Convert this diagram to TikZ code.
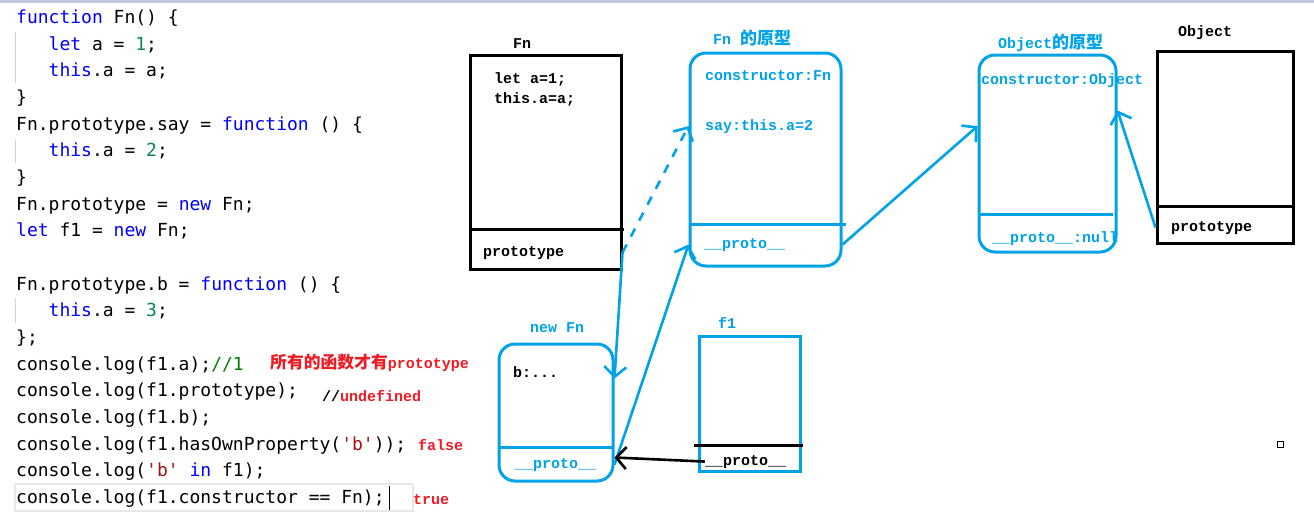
\documentclass[tikz,border=0pt]{standalone}
\usepackage{fontspec}
\setmonofont{DejaVu Sans Mono}
\newfontfamily\paintfont{Liberation Mono}
\newfontfamily\cjk{Noto Sans CJK SC}
\usetikzlibrary{arrows.meta,positioning}

\definecolor{paintblue}{RGB}{0,162,232}
\definecolor{paintred}{RGB}{237,28,36}
\definecolor{kwblue}{RGB}{0,0,255}
\definecolor{numgreen}{RGB}{9,134,88}
\definecolor{strred}{RGB}{163,21,21}
\definecolor{cmtgreen}{RGB}{0,128,0}
\definecolor{topgray}{RGB}{192,204,220}
\definecolor{guidegray}{RGB}{210,210,210}
\definecolor{hlgray}{RGB}{232,232,232}

\newcommand{\kwd}[1]{\textcolor{kwblue}{#1}}
\newcommand{\numc}[1]{\textcolor{numgreen}{#1}}
\newcommand{\strc}[1]{\textcolor{strred}{#1}}
\newcommand{\cmtc}[1]{\textcolor{cmtgreen}{#1}}
\newcommand{\zh}[2]{{\cjk\fontsize{#1}{#1}\selectfont #2}}

\begin{document}
\begin{tikzpicture}[
    x=1pt, y=-1pt,
    code/.style={anchor=base west, inner sep=0pt, font=\fontsize{18}{20}\selectfont\ttfamily},
    paint/.style={anchor=base west, inner sep=0pt, font=\fontsize{15}{17}\selectfont\paintfont\bfseries},
    blackbox/.style={draw=black, line width=3pt, inner sep=0pt},
    bluebox/.style={draw=paintblue, line width=3pt, inner sep=0pt},
    roundbox/.style={bluebox, rounded corners=16pt},
    sepline/.style={line width=3pt},
    bluearrow/.style={draw=paintblue, line width=2.6pt, -{Straight Barb[length=10pt,width=22pt]}},
    blackarrow/.style={draw=black, line width=2.6pt, -{Straight Barb[length=10pt,width=22pt]}}
]
    \fill[white] (0,0) rectangle (1314,520);
    \useasboundingbox (0,0) rectangle (1314,520);
    \fill[topgray] (0,0) rectangle (1314,2.5);

    % Editor: source code
    \draw[guidegray, line width=1pt] (15.5,32) -- (15.5,83);
    \draw[guidegray, line width=1pt] (15.5,140) -- (15.5,163);
    \draw[guidegray, line width=1pt] (15.5,298) -- (15.5,323);
    \draw[hlgray, line width=1.5pt] (15,484) rectangle (413,511);
    \draw[black, line width=1pt] (389,486) -- (389,510);

    \node[code] (c0) at (16,23.5) {\kwd{function} Fn() \{};
    \node[code] (c1) at (16,50.2) {~~~\kwd{let} a = \numc{1};};
    \node[code] (c2) at (16,76.8) {~~~\kwd{this}.a = a;};
    \node[code] (c3) at (16,103.5) {\}};
    \node[code] (c4) at (16,130.2) {Fn.prototype.say = \kwd{function} () \{};
    \node[code] (c5) at (16,156.9) {~~~\kwd{this}.a = \numc{2};};
    \node[code] (c6) at (16,183.5) {\}};
    \node[code] (c7) at (16,210.2) {Fn.prototype = \kwd{new} Fn;};
    \node[code] (c8) at (16,236.9) {\kwd{let} f1 = \kwd{new} Fn;};
    \node[code] (c10) at (16,290.2) {Fn.prototype.b = \kwd{function} () \{};
    \node[code] (c11) at (16,316.9) {~~~\kwd{this}.a = \numc{3};};
    \node[code] (c12) at (16,343.5) {\};};
    \node[code] (c13) at (16,370.2) {console.log(f1.a);\cmtc{//1}};
    \node[code] (c14) at (16,396.9) {console.log(f1.prototype);};
    \node[code] (c15) at (16,423.6) {console.log(f1.b);};
    \node[code] (c16) at (16,450.2) {console.log(f1.hasOwnProperty(\strc{\textquotesingle b\textquotesingle}));};
    \node[code] (c17) at (16,476.9) {console.log(\strc{\textquotesingle b\textquotesingle} \kwd{in} f1);};
    \node[code] (c18) at (16,503.6) {console.log(f1.constructor == Fn);};

    % Notes
    \node[paint, text=paintred] (note1) at (270,368) {\zh{16.8}{所有的函数才有}prototype};
    \node[paint] (note2) at (322,401) {//\textcolor{paintred}{undefined}};
    \node[paint, text=paintred] (note3) at (418,450) {false};
    \node[paint, text=paintred] (note4) at (413,504) {true};

    % Fn
    \node[blackbox, minimum width=151pt, minimum height=214pt] (fn) at (545.5,162) {};
    \draw[sepline] (470,229) -- (624,229);
    \node[paint, anchor=base] (fnlabel) at (522,48) {Fn};
    \node[paint] (fnlet) at (494,83) {let a=1;};
    \node[paint] (fnthis) at (494,103) {this.a=a;};
    \node[paint] (fnproto) at (483,256) {prototype};

    % Fn 的原型
    \node[roundbox, minimum width=151pt, minimum height=213pt] (pfn) at (765.5,159.5) {};
    \draw[sepline, paintblue] (690,224) -- (846,224);
    \node[paint, text=paintblue] (pfnlabel) at (713,44) {Fn \zh{17}{的原型}};
    \node[paint, text=paintblue] (pfncons) at (705,80) {constructor:Fn};
    \node[paint, text=paintblue] (say) at (705,130) {say:this.a=2};
    \node[paint, text=paintblue] (pfnp) at (704,248) {\_\_proto\_\_};

    % Object 的原型
    \node[roundbox, minimum width=137pt, minimum height=197pt] (pobj) at (1047.5,153.5) {};
    \draw[sepline, paintblue] (979,214) -- (1113,214);
    \node[paint, text=paintblue] (pobjlabel) at (998,48) {Object\zh{17}{的原型}};
    \node[paint, text=paintblue] (pobjcons) at (981,84) {constructor:Object};
    \node[paint, text=paintblue] (pobjp) at (992,242) {\_\_proto\_\_:null};

    % Object
    \node[blackbox, minimum width=136pt, minimum height=192pt] (obj) at (1225,147) {};
    \draw[sepline] (1157,206) -- (1293,206);
    \node[paint] (objlabel) at (1178,36) {Object};
    \node[paint] (objp) at (1171,231) {prototype};

    % new Fn
    \node[roundbox, minimum width=114pt, minimum height=137pt] (nfn) at (556,412.5) {};
    \draw[sepline, paintblue] (499,447) -- (613,447);
    \node[paint, text=paintblue] (nfnlabel) at (530,332) {new Fn};
    \node[paint] (nfnb) at (513,377) {b:...};
    \node[paint, text=paintblue] (nfnp) at (515,468) {\_\_proto\_\_};

    % f1
    \node[bluebox, minimum width=101pt, minimum height=135pt] (fone) at (749.5,403.5) {};
    \draw[sepline] (694,445) -- (803,445);
    \node[paint, text=paintblue] (fonelabel) at (718,328) {f1};
    \node[paint] (fonep) at (705,465) {\_\_proto\_\_};

    % Links
    \draw[bluearrow, dash pattern=on 9pt off 9pt] (fn.east |- fnproto) -- (pfn.west |- say);
    \draw[bluearrow] (fn.east |- fnproto) -- ([yshift=34pt]nfn.east);
    \draw[bluearrow] (nfn.east |- nfnp) -- (pfn.west |- pfnp);
    \draw[bluearrow] (pfn.east |- pfnp) -- (pobj.west |- say);
    \draw[bluearrow] (obj.west |- objp) -- ([yshift=43pt]pobj.east);
    \draw[blackarrow] (fonep.west) -- ([yshift=-45pt]nfn.east);

    \node[draw, line width=1pt, minimum size=6pt, inner sep=0pt] (sq) at (1280,444) {};
\end{tikzpicture}
\end{document}
